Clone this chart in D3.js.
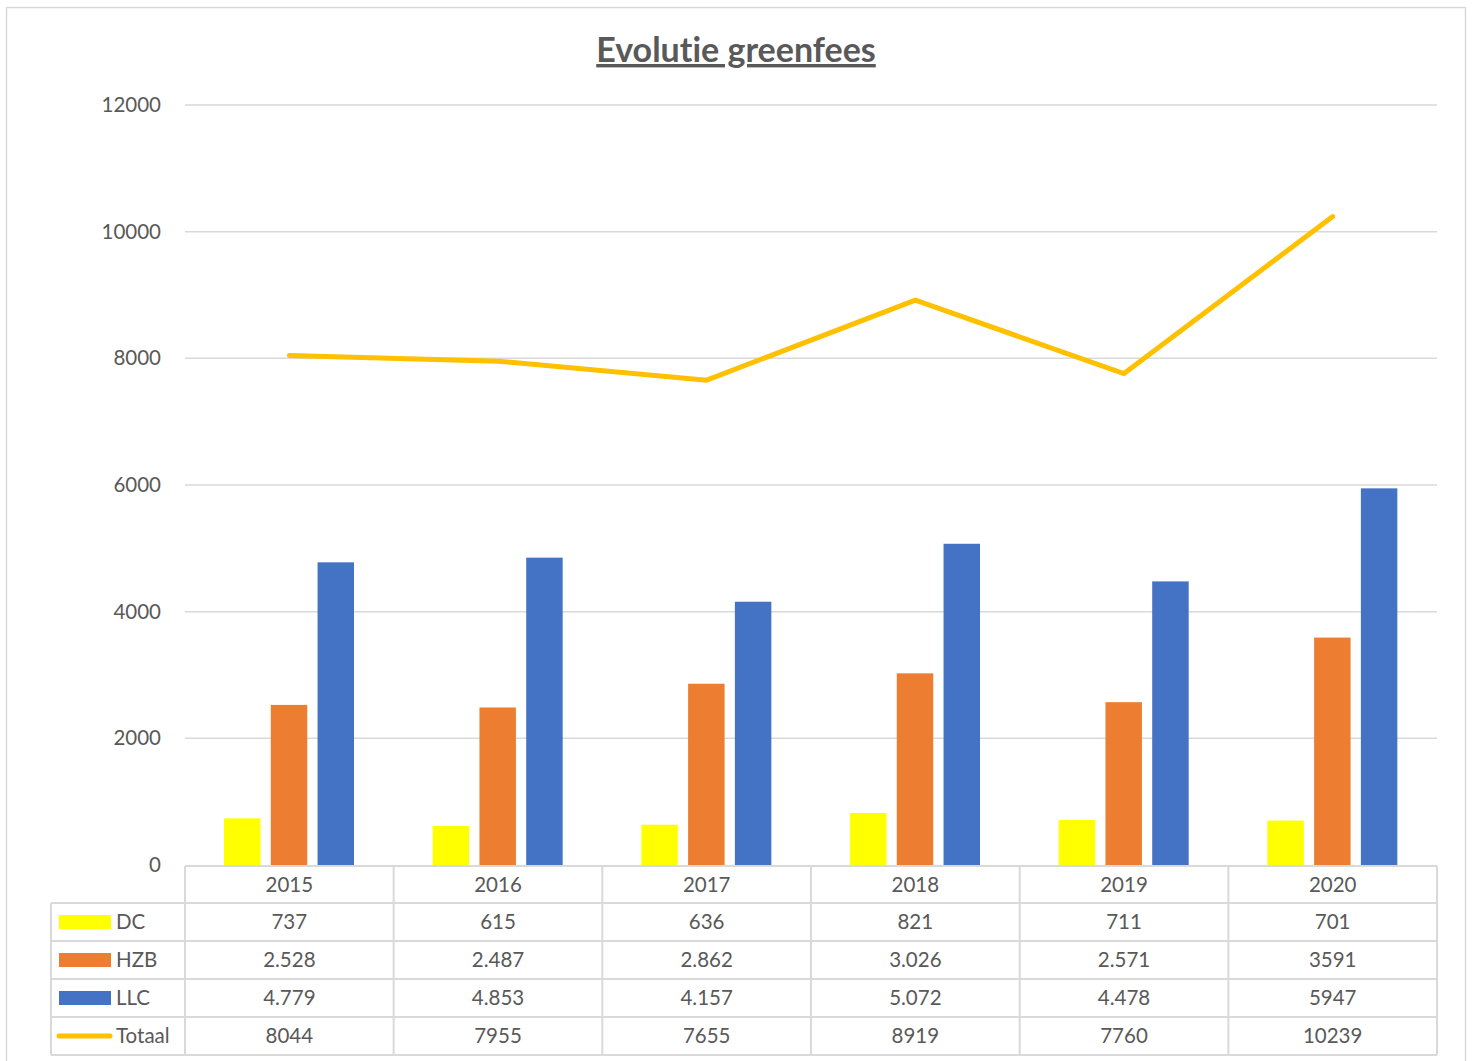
<!DOCTYPE html>
<html><head><meta charset="utf-8">
<script src="https://cdn.jsdelivr.net/npm/d3@7"></script>
<style>
html,body{margin:0;padding:0;background:#fff;}
svg text{font-family:Lato,"Open Sans",sans-serif;fill:#595959;font-variant-ligatures:none;}
</style></head>
<body>
<svg id="c" width="1472" height="1061"></svg>
<script>
const years = ["2015","2016","2017","2018","2019","2020"];
const seriesNames = ["DC","HZB","LLC"];
const dcValues = [737,615,636,821,711,701];
const hzbValues = [2528,2487,2862,3026,2571,3591];
const llcValues = [4779,4853,4157,5072,4478,5947];
const totaalValues = [8044,7955,7655,8919,7760,10239];
const dcLabels = ["737","615","636","821","711","701"];
const hzbLabels = ["2.528","2.487","2.862","3.026","2.571","3591"];
const llcLabels = ["4.779","4.853","4.157","5.072","4.478","5947"];
const totaalLabels = ["8044","7955","7655","8919","7760","10239"];
const yTicks = [0,2000,4000,6000,8000,10000,12000];
const colors = {DC:"#FFFF00",HZB:"#ED7D31",LLC:"#4472C4",Totaal:"#FFC000"};

const svg = d3.select("#c");
const L=185, R=1437, T=105, B=865;
const grid="#d9d9d9";

// outer border
svg.append("rect").attr("x",6.5).attr("y",7.5).attr("width",1459).attr("height",1060)
  .attr("fill","none").attr("stroke",grid).attr("stroke-width",1.5);

// title
svg.append("text").attr("x",736).attr("y",62).attr("text-anchor","middle")
  .style("font-size","34px").style("font-weight","bold").style("text-decoration","underline")
  .text("Evolutie greenfees");

const y = d3.scaleLinear().domain([0,12000]).range([B,T]);
const x0 = d3.scaleBand().domain(years).range([L,R]);
const bw = x0.bandwidth();
const x1 = d3.scaleBand().domain(seriesNames).range([bw*0.187, bw*0.81]).paddingInner(0.22);

// gridlines
svg.append("g").selectAll("line").data(yTicks.filter(d=>d>0)).join("line")
  .attr("x1",L).attr("x2",R).attr("y1",d=>y(d)).attr("y2",d=>y(d))
  .attr("stroke",grid).attr("stroke-width",1.5);

// y axis labels
const ya = svg.append("g").attr("transform",`translate(${L},0)`)
  .call(d3.axisLeft(y).tickValues(yTicks).tickSize(0).tickPadding(24).tickFormat(d=>String(d)));
ya.select(".domain").remove();
ya.selectAll("text").style("font-size","20.5px").attr("fill","#595959").style("font-family","Lato,'Open Sans',sans-serif");

// bars
const data = years.map((yr,i)=>({year:yr, DC:dcValues[i], HZB:hzbValues[i], LLC:llcValues[i]}));
svg.append("g").selectAll("g").data(data).join("g")
  .attr("transform",d=>`translate(${x0(d.year)},0)`)
  .selectAll("rect").data(d=>seriesNames.map(k=>({k,v:d[k]}))).join("rect")
  .attr("x",d=>x1(d.k)).attr("width",x1.bandwidth())
  .attr("y",d=>y(d.v)).attr("height",d=>y(0)-y(d.v))
  .attr("fill",d=>colors[d.k]);

// total line
const line = d3.line().x((d,i)=>x0(years[i])+bw/2).y(d=>y(d));
svg.append("path").datum(totaalValues).attr("d",line).attr("fill","none")
  .attr("stroke",colors.Totaal).attr("stroke-width",5).attr("stroke-linecap","round").attr("stroke-linejoin","round");

// data table
const rowY = [866, 903, 941, 979, 1017, 1055];
const TL = 51;
const tg = svg.append("g");
tg.append("line").attr("x1",L).attr("x2",R).attr("y1",rowY[0]).attr("y2",rowY[0]).attr("stroke",grid).attr("stroke-width",2);
rowY.slice(1).forEach(yy=>{
  tg.append("line").attr("x1",TL).attr("x2",R).attr("y1",yy).attr("y2",yy).attr("stroke",grid).attr("stroke-width",2);
});
tg.append("line").attr("x1",TL).attr("x2",TL).attr("y1",rowY[1]).attr("y2",rowY[5]).attr("stroke",grid).attr("stroke-width",2);
years.forEach(yr=>{
  tg.append("line").attr("x1",x0(yr)).attr("x2",x0(yr)).attr("y1",rowY[0]).attr("y2",rowY[5]).attr("stroke",grid).attr("stroke-width",2);
});
tg.append("line").attr("x1",R).attr("x2",R).attr("y1",rowY[0]).attr("y2",rowY[5]).attr("stroke",grid).attr("stroke-width",2);

const rows = [years, dcLabels, hzbLabels, llcLabels, totaalLabels];
rows.forEach((r,ri)=>{
  const cy = (rowY[ri]+rowY[ri+1])/2;
  tg.selectAll(null).data(r).join("text")
    .attr("x",(d,i)=>x0(years[i])+bw/2).attr("y",cy).attr("dy","0.36em")
    .attr("text-anchor","middle").style("font-size","20.5px").text(d=>d);
});
const keys = ["DC","HZB","LLC","Totaal"];
keys.forEach((k,i)=>{
  const cy = (rowY[i+1]+rowY[i+2])/2;
  if(k==="Totaal"){
    tg.append("line").attr("x1",59).attr("x2",110).attr("y1",cy).attr("y2",cy)
      .attr("stroke",colors[k]).attr("stroke-width",5).attr("stroke-linecap","round");
  } else {
    tg.append("rect").attr("x",59).attr("y",cy-7).attr("width",52).attr("height",14).attr("fill",colors[k]);
  }
  tg.append("text").attr("x",116).attr("y",cy).attr("dy","0.36em").style("font-size","20.5px").text(k);
});
</script>
</body></html>
